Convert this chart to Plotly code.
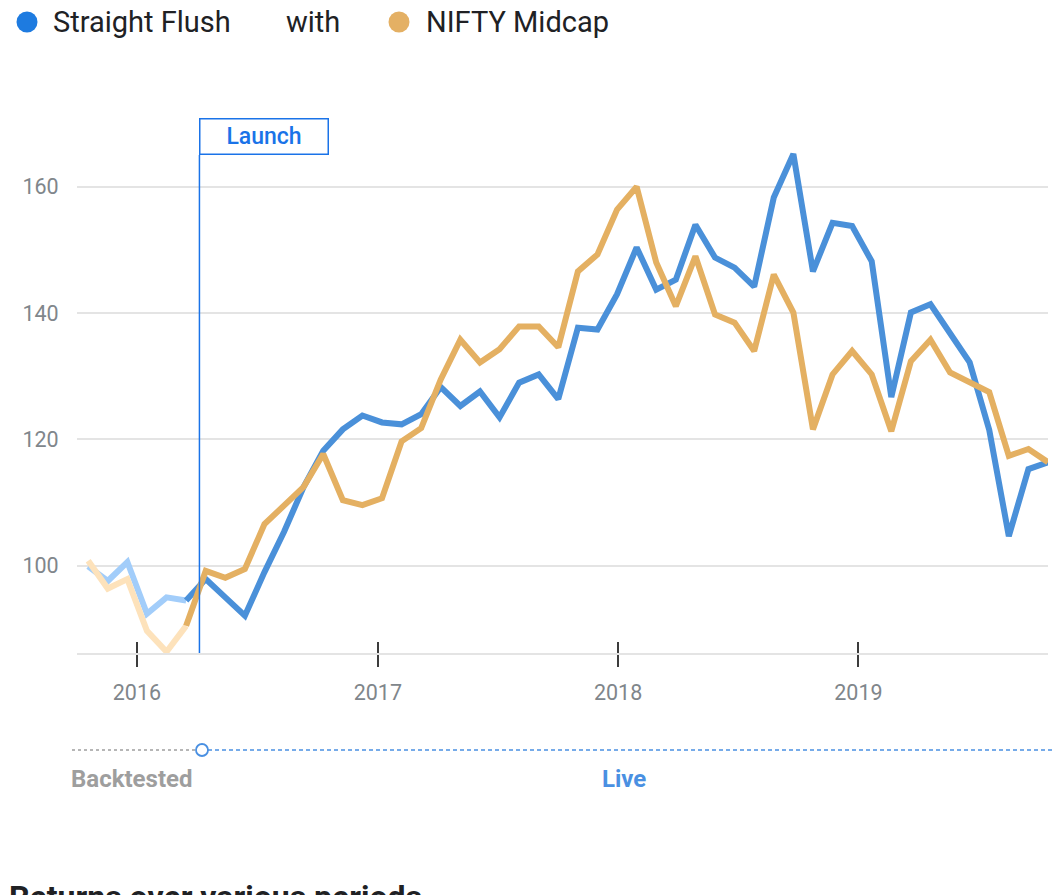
import pandas as pd
import plotly.graph_objects as go

# ---- data ----
dates = pd.date_range("2015-10-19", "2019-10-16", periods=50)
straight_flush = [99.9, 97.6, 100.6, 92.4, 95.0, 94.5, 97.9, 95.0, 92.1, 99.0,
                  105.4, 112.5, 118.2, 121.6, 123.8, 122.7, 122.4, 124.0, 128.3, 125.3,
                  127.6, 123.5, 129.0, 130.3, 126.4, 137.7, 137.4, 143.0, 150.4, 143.7,
                  145.3, 154.0, 148.8, 147.2, 144.2, 158.3, 165.2, 146.6, 154.3, 153.8,
                  148.2, 126.7, 140.1, 141.4, 136.6, 132.2, 121.5, 104.7, 115.3, 116.4]
nifty_midcap = [100.8, 96.4, 97.9, 89.7, 86.4, 90.5, 99.2, 98.1, 99.5, 106.6,
                109.6, 112.5, 117.7, 110.4, 109.6, 110.7, 119.7, 121.8, 129.5, 135.8,
                132.2, 134.3, 137.9, 137.9, 134.6, 146.6, 149.3, 156.4, 160.0, 148.0,
                141.1, 149.0, 139.8, 138.5, 134.0, 146.1, 140.1, 121.6, 130.3, 134.0,
                130.3, 121.3, 132.4, 135.8, 130.6, 129.0, 127.5, 117.4, 118.5, 116.4]
backtest_end = 5  # index where live segment starts
launch_date = "2016-04-05"
year_ticks = ["2016-01-01", "2017-01-01", "2018-01-01", "2019-01-01"]
year_labels = ["2016", "2017", "2018", "2019"]
y_ticks = [100, 120, 140, 160]

BLUE = "#4a90d9"
BLUE_LIGHT = "#a2cdfa"
ORANGE = "#e4b062"
ORANGE_LIGHT = "#fde2bb"
ACCENT = "#1a73e8"
FONT = "Roboto"

fig = go.Figure()
lw = 6
fig.add_trace(go.Scatter(x=dates[:backtest_end + 1], y=straight_flush[:backtest_end + 1],
                         mode="lines", line=dict(color=BLUE_LIGHT, width=lw), hoverinfo="skip"))
fig.add_trace(go.Scatter(x=dates[:backtest_end + 1], y=nifty_midcap[:backtest_end + 1],
                         mode="lines", line=dict(color=ORANGE_LIGHT, width=lw), hoverinfo="skip"))
fig.add_trace(go.Scatter(x=dates[backtest_end:], y=straight_flush[backtest_end:],
                         mode="lines", line=dict(color=BLUE, width=lw), name="Straight Flush"))
fig.add_trace(go.Scatter(x=dates[backtest_end:], y=nifty_midcap[backtest_end:],
                         mode="lines", line=dict(color=ORANGE, width=lw), name="NIFTY Midcap"))
# helper trace for the overlay axis (inside tick marks)
fig.add_trace(go.Scatter(x=[dates[0]], y=[straight_flush[0]], xaxis="x2", mode="lines",
                         line=dict(width=0), hoverinfo="skip"))

OFF = 8  # page body margin
W, H = 1063 - OFF, 895 - OFF
L, T = 77 - OFF, 100 - OFF
R = W - (1048 - OFF)
B = H - (653 - OFF)
pw = W - L - R
ph = H - T - B


def px_x(p):
    return (p - OFF - L) / pw


def px_y(p):
    return (H - B - (p - OFF)) / ph


fig.update_layout(
    width=W, height=H, showlegend=False,
    margin=dict(l=L, r=R, t=T, b=B),
    paper_bgcolor="white", plot_bgcolor="white",
    font=dict(family=FONT, color="#80868b"),
    xaxis=dict(type="date", range=["2015-10-02", "2019-10-16"],
               tickvals=year_ticks, ticktext=year_labels,
               ticks="outside", ticklen=12, tickwidth=1.5, tickcolor="#3c3c3c",
               ticklabelstandoff=7,
               showgrid=False, showline=True, linecolor="#e4e4e4", linewidth=2,
               zeroline=False, tickfont=dict(size=21.5, color="#80868b")),
    xaxis2=dict(overlaying="x", matches="x", anchor="y", side="bottom",
                tickvals=year_ticks, ticks="inside", ticklen=11, tickwidth=1.5,
                tickcolor="#3c3c3c", showticklabels=False, showgrid=False,
                showline=False, zeroline=False),
    yaxis=dict(range=[86.2, 173.74], tickvals=y_ticks, showgrid=True,
               gridcolor="#e4e4e4", gridwidth=2, zeroline=False, showline=False,
               ticks="outside", ticklen=13, tickcolor="rgba(0,0,0,0)",
               tickfont=dict(size=21.5, color="#80868b")),
)

# Launch marker
fig.add_shape(type="line", xref="x", yref="paper", x0=launch_date, x1=launch_date,
              y0=0, y1=px_y(155), line=dict(color=ACCENT, width=1.5))
fig.add_annotation(xref="x", yref="paper", x=launch_date, y=px_y(118), xanchor="left",
                   yanchor="top", text="Launch", showarrow=False, width=127, height=34,
                   borderpad=0, bordercolor=ACCENT, borderwidth=1.5, bgcolor="white",
                   font=dict(family=FONT, size=23, color=ACCENT, weight=500), align="center")

# Legend row
fig.add_shape(type="circle", xref="paper", yref="paper", xsizemode="pixel", ysizemode="pixel",
              xanchor=px_x(27), yanchor=px_y(22), x0=-10.5, x1=10.5, y0=-10.5, y1=10.5,
              fillcolor="#1e7be0", line=dict(width=0))
fig.add_shape(type="circle", xref="paper", yref="paper", xsizemode="pixel", ysizemode="pixel",
              xanchor=px_x(399), yanchor=px_y(22), x0=-10.5, x1=10.5, y0=-10.5, y1=10.5,
              fillcolor="#e4b064", line=dict(width=0))
for txt, xp in [("Straight Flush", 51), ("with", 284), ("NIFTY Midcap", 424)]:
    fig.add_annotation(xref="paper", yref="paper", x=px_x(xp), y=px_y(22), xanchor="left",
                       yanchor="middle", text=txt, showarrow=False,
                       font=dict(family=FONT, size=29, color="#202124"))

# Backtested / Live timeline
ty = px_y(750)
fig.add_shape(type="line", xref="paper", yref="paper", x0=px_x(72), x1=px_x(196), y0=ty, y1=ty,
              line=dict(color="#9e9e9e", width=1.5, dash="3px,3px"))
fig.add_shape(type="line", xref="paper", yref="paper", x0=px_x(208), x1=px_x(1063), y0=ty, y1=ty,
              line=dict(color="#4a90e2", width=1.5, dash="4px,3px"))
fig.add_shape(type="circle", xref="paper", yref="paper", xsizemode="pixel", ysizemode="pixel",
              xanchor=px_x(202), yanchor=ty, x0=-6, x1=6, y0=-6, y1=6,
              fillcolor="white", line=dict(color="#4a90e2", width=1.8))
fig.add_annotation(xref="paper", yref="paper", x=px_x(132), y=px_y(779), text="<b>Backtested</b>",
                   xanchor="center", yanchor="middle",
                   showarrow=False, font=dict(family=FONT, size=24, color="#9e9e9e"))
fig.add_annotation(xref="paper", yref="paper", x=px_x(624), y=px_y(779), text="<b>Live</b>",
                   xanchor="center", yanchor="middle",
                   showarrow=False, font=dict(family=FONT, size=24, color="#4a90e2"))

# Cut-off heading at the bottom
fig.add_annotation(xref="paper", yref="paper", x=px_x(7), y=px_y(876), xanchor="left",
                   yanchor="top", text="<b>Returns over various periods</b>", showarrow=False,
                   font=dict(family=FONT, size=32, color="#202124"))

fig.write_html("out.html", config={"displayModeBar": False})
